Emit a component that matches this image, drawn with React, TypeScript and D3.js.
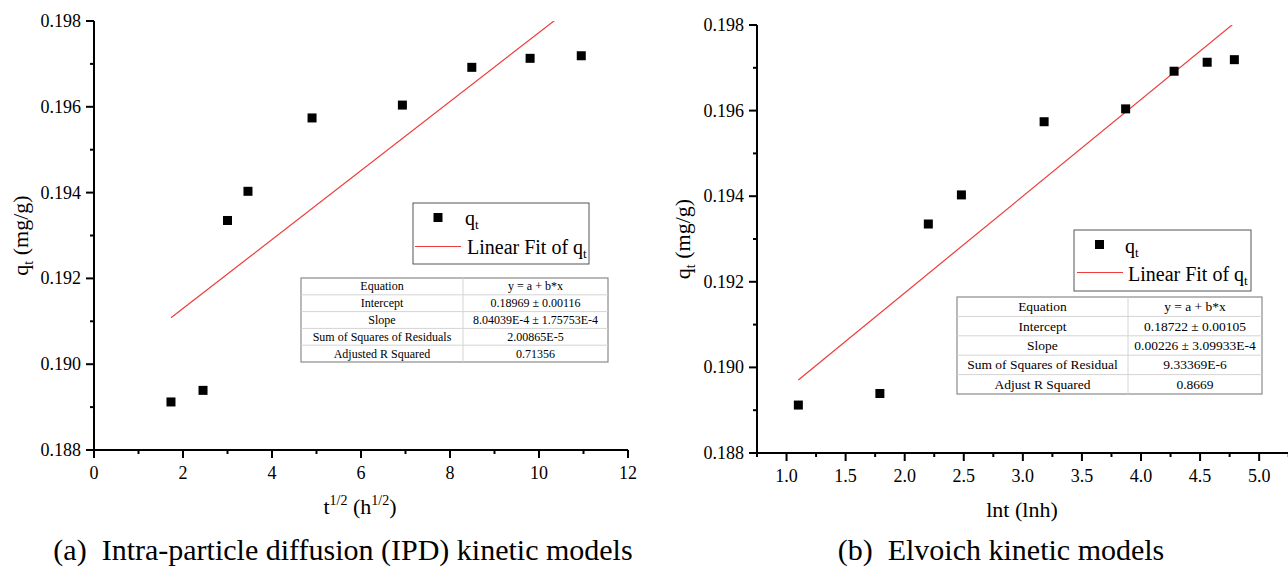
import React from "react";
import * as d3 from "d3";

// ---- data ----
const sqrtT = [1.73, 2.45, 3.0, 3.46, 4.9, 6.93, 8.49, 9.8, 10.95];
const lnT = [1.1, 1.79, 2.2, 2.48, 3.18, 3.87, 4.28, 4.56, 4.79];
const qt = [0.18912, 0.18939, 0.19335, 0.19403, 0.19574, 0.19604, 0.19692, 0.19713, 0.19719];

const ipdIntercept = 0.18969;
const ipdSlope = 8.04039e-4;
const elovichIntercept = 0.18722;
const elovichSlope = 0.00226;

const yTicks = [0.188, 0.19, 0.192, 0.194, 0.196, 0.198];
const yMinor = [0.189, 0.191, 0.193, 0.195, 0.197];
const ipdXTicks = [0, 2, 4, 6, 8, 10, 12];
const ipdXMinor = [1, 3, 5, 7, 9, 11];
const elXTicks = [1.0, 1.5, 2.0, 2.5, 3.0, 3.5, 4.0, 4.5, 5.0];
const elXMinor = [0.75, 1.25, 1.75, 2.25, 2.75, 3.25, 3.75, 4.25, 4.75, 5.25];

const ipdTableLabels = ["Equation", "Intercept", "Slope", "Sum of Squares of Residuals", "Adjusted R Squared"];
const ipdTableValues = ["y = a + b*x", "0.18969 \u00B1 0.00116", "8.04039E-4 \u00B1 1.75753E-4", "2.00865E-5", "0.71356"];
const elTableLabels = ["Equation", "Intercept", "Slope", "Sum of Squares of Residual", "Adjust R Squared"];
const elTableValues = ["y = a + b*x", "0.18722 \u00B1 0.00105", "0.00226 \u00B1 3.09933E-4", "9.33369E-6", "0.8669"];

const FONT = "Liberation Serif, DejaVu Serif, serif";

type PanelProps = {
  id: string;
  xs: number[];
  ys: number[];
  a: number;
  b: number;
  xDomain: [number, number];
  xRange: [number, number];
  yRange: [number, number];
  xTicks: number[];
  xMinor: number[];
  xFmt: (v: number) => string;
  yTitleX: number;
  xTitle: React.ReactNode;
  xTitleX: number;
  xTitleY: number;
  legend: { x0: number; y0: number; x1: number; y1: number; mx: number; my: number; tx: number; ty1: number; lx0: number; lx1: number; ly: number; tx2: number; ty2: number };
  table: { x0: number; x1: number; xm: number; y0: number; y1: number; fs: number; labels: string[]; values: string[] };
};

function Panel(p: PanelProps) {
  const x = d3.scaleLinear().domain(p.xDomain).range(p.xRange);
  const y = d3.scaleLinear().domain([0.188, 0.198]).range(p.yRange);
  const fitX = [d3.min(p.xs)!, d3.max(p.xs)!];
  const line = d3
    .line<number>()
    .x((d) => x(d))
    .y((d) => y(p.a + p.b * d));
  const ax = p.xRange[0];
  const ay = p.yRange[0];
  const T = p.table;
  const rows = T.labels.length;
  const rh = (T.y1 - T.y0) / rows;
  const L = p.legend;
  return (
    <g>
      <defs>
        <clipPath id={`clip-${p.id}`}>
          <rect x={p.xRange[0]} y={p.yRange[1]} width={p.xRange[1] - p.xRange[0]} height={p.yRange[0] - p.yRange[1]} />
        </clipPath>
      </defs>
      {/* fit line */}
      <path d={line(fitX) || ""} stroke="#ee3b3b" strokeWidth={1.2} fill="none" clipPath={`url(#clip-${p.id})`} />
      {/* points */}
      {p.xs.map((xv, i) => (
        <rect key={i} x={x(xv) - 4.5} y={y(p.ys[i]) - 4.5} width={9} height={9} fill="#000" />
      ))}
      {/* axes */}
      <line x1={ax} x2={ax} y1={p.yRange[1]} y2={ay + 1} stroke="#000" strokeWidth={2} />
      <line x1={ax - 1} x2={p.xRange[1]} y1={ay} y2={ay} stroke="#000" strokeWidth={2} />
      {yTicks.map((t) => (
        <g key={t}>
          <line x1={ax - 8} x2={ax} y1={y(t)} y2={y(t)} stroke="#000" strokeWidth={2} />
          <text x={ax - 13} y={y(t) + 6} textAnchor="end" fontSize={18}>
            {d3.format(".3f")(t)}
          </text>
        </g>
      ))}
      {yMinor.map((t) => (
        <line key={t} x1={ax - 4} x2={ax} y1={y(t)} y2={y(t)} stroke="#000" strokeWidth={2} />
      ))}
      {p.xTicks.map((t) => (
        <g key={t}>
          <line x1={x(t)} x2={x(t)} y1={ay} y2={ay + 8} stroke="#000" strokeWidth={2} />
          <text x={x(t)} y={ay + 29} textAnchor="middle" fontSize={18}>
            {p.xFmt(t)}
          </text>
        </g>
      ))}
      {p.xMinor.map((t) => (
        <line key={t} x1={x(t)} x2={x(t)} y1={ay} y2={ay + 4} stroke="#000" strokeWidth={2} />
      ))}
      {/* y title */}
      <text
        transform={`translate(${p.yTitleX},${(p.yRange[0] + p.yRange[1]) / 2}) rotate(-90)`}
        textAnchor="middle"
        fontSize={22}
      >
        <tspan>q</tspan>
        <tspan fontSize={14} dy={5}>t</tspan>
        <tspan dy={-5}> (mg/g)</tspan>
      </text>
      {/* x title */}
      <text x={p.xTitleX} y={p.xTitleY} textAnchor="middle" fontSize={22}>
        {p.xTitle}
      </text>
      {/* legend */}
      <rect x={L.x0} y={L.y0} width={L.x1 - L.x0} height={L.y1 - L.y0} fill="#fff" stroke="#555" strokeWidth={1} />
      <rect x={L.mx - 4.5} y={L.my - 4.5} width={9} height={9} fill="#000" />
      <text x={L.tx} y={L.ty1} fontSize={20}>
        <tspan>q</tspan>
        <tspan fontSize={13} dy={4}>t</tspan>
      </text>
      <line x1={L.lx0} x2={L.lx1} y1={L.ly} y2={L.ly} stroke="#ee3b3b" strokeWidth={1.2} />
      <text x={L.tx2} y={L.ty2} fontSize={20}>
        <tspan>Linear Fit of q</tspan>
        <tspan fontSize={13} dy={4}>t</tspan>
      </text>
      {/* table */}
      <rect x={T.x0} y={T.y0} width={T.x1 - T.x0} height={T.y1 - T.y0} fill="#fff" stroke="#8a8a8a" strokeWidth={1.2} />
      {d3.range(1, rows).map((i) => (
        <line key={i} x1={T.x0} x2={T.x1} y1={T.y0 + i * rh} y2={T.y0 + i * rh} stroke="#d4d4d4" strokeWidth={1} />
      ))}
      <line x1={T.xm} x2={T.xm} y1={T.y0} y2={T.y1} stroke="#d4d4d4" strokeWidth={1} />
      {T.labels.map((s, i) => (
        <text key={"l" + i} x={(T.x0 + T.xm) / 2} y={T.y0 + (i + 0.5) * rh + T.fs * 0.33} textAnchor="middle" fontSize={T.fs}>
          {s}
        </text>
      ))}
      {T.values.map((s, i) => (
        <text key={"v" + i} x={(T.xm + T.x1) / 2} y={T.y0 + (i + 0.5) * rh + T.fs * 0.33} textAnchor="middle" fontSize={T.fs}>
          {s}
        </text>
      ))}
    </g>
  );
}

export default function App() {
  return (
    <svg
      width={1288}
      height={568}
      style={{ position: "absolute", left: 0, top: 0, background: "#fff", fontFamily: FONT }}
    >
      <Panel
        id="a"
        xs={sqrtT}
        ys={qt}
        a={ipdIntercept}
        b={ipdSlope}
        xDomain={[0, 12]}
        xRange={[94, 628]}
        yRange={[450, 21]}
        xTicks={ipdXTicks}
        xMinor={ipdXMinor}
        xFmt={(v) => String(v)}
        yTitleX={28}
        xTitle={
          <>
            <tspan>t</tspan>
            <tspan fontSize={14} dy={-9}>1/2</tspan>
            <tspan dy={9}> (h</tspan>
            <tspan fontSize={14} dy={-9}>1/2</tspan>
            <tspan dy={9}>)</tspan>
          </>
        }
        xTitleX={360}
        xTitleY={514}
        legend={{ x0: 413, y0: 203, x1: 589, y1: 264, mx: 438, my: 217.5, tx: 465, ty1: 225, lx0: 415, lx1: 461, ly: 246.5, tx2: 467, ty2: 254 }}
        table={{ x0: 301, x1: 608, xm: 463, y0: 278, y1: 362, fs: 12, labels: ipdTableLabels, values: ipdTableValues }}
      />
      <Panel
        id="b"
        xs={lnT}
        ys={qt}
        a={elovichIntercept}
        b={elovichSlope}
        xDomain={[0.75, 5.25]}
        xRange={[757, 1288.7]}
        yRange={[453, 25]}
        xTicks={elXTicks}
        xMinor={elXMinor}
        xFmt={(v) => d3.format(".1f")(v)}
        yTitleX={690}
        xTitle={<tspan>lnt (lnh)</tspan>}
        xTitleX={1022}
        xTitleY={517}
        legend={{ x0: 1074, y0: 230, x1: 1251, y1: 291, mx: 1099.5, my: 244.5, tx: 1125, ty1: 253, lx0: 1077, lx1: 1123, ly: 272.5, tx2: 1128, ty2: 280.5 }}
        table={{ x0: 957, x1: 1262, xm: 1128, y0: 297, y1: 394, fs: 13.5, labels: elTableLabels, values: elTableValues }}
      />
      <text x={343} y={560} textAnchor="middle" fontSize={30} style={{ whiteSpace: "pre" }}>
        {"(a)  Intra-particle diffusion (IPD) kinetic models"}
      </text>
      <text x={1001} y={560} textAnchor="middle" fontSize={30} style={{ whiteSpace: "pre" }}>
        {"(b)  Elvoich kinetic models"}
      </text>
    </svg>
  );
}
